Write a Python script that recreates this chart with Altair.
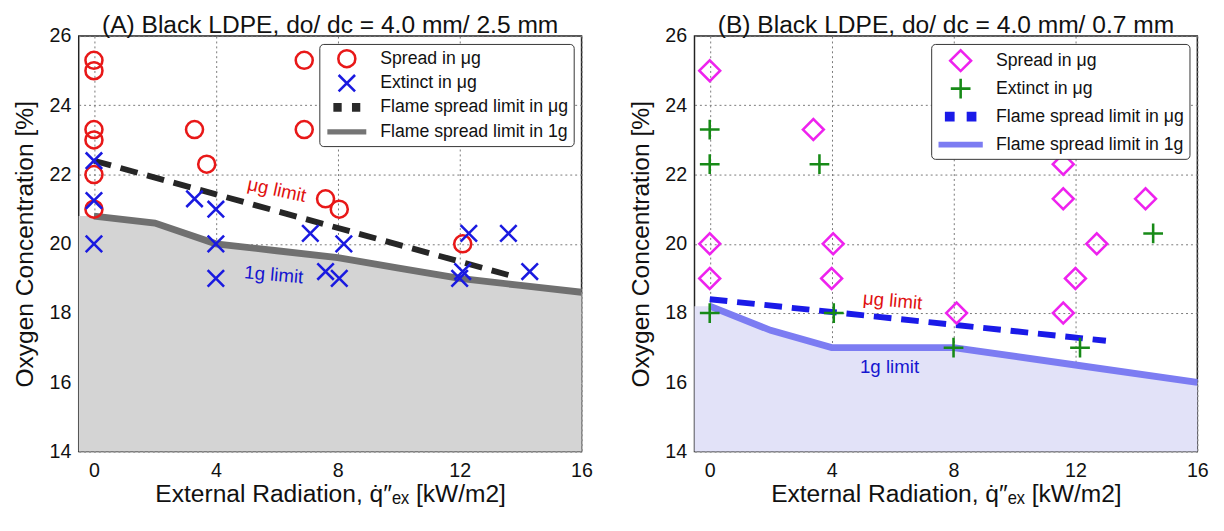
import altair as alt
import pandas as pd

FONT = "Liberation Sans"

SERIES = ["Spread in μg", "Extinct in μg", "Flame spread limit in μg", "Flame spread limit in 1g"]

# ---------- Panel A data ----------
a_spread_x = [0, 0, 0, 0, 0, 0, 3.3, 3.7, 6.9, 6.9, 7.6, 8.05, 12.1]
a_spread_y = [25.3, 25.0, 23.3, 23.0, 22.0, 21.0, 23.3, 22.3, 25.3, 23.3, 21.3, 21.0, 20.0]
a_ext_x = [0, 0, 0, 3.3, 4, 4, 4, 7.1, 7.6, 8.2, 8.05, 12, 12.1, 12.3, 13.6, 14.3]
a_ext_y = [22.4, 21.25, 20.0, 21.3, 21.0, 20.0, 19.0, 20.3, 19.2, 20.0, 19.0, 19.0, 19.2, 20.3, 20.3, 19.2]
a_mu_x = [0, 13.6]
a_mu_y = [22.4, 19.1]
a_1g_x = [0, 2, 4, 6, 8, 10, 12, 14, 16]
a_1g_y = [20.8, 20.6, 20.0, 19.8, 19.6, 19.3, 19.0, 18.8, 18.6]
# shaded region below the 1g limit (reaches the left frame)
a_fill_x = [-0.5, 0, 2, 4, 6, 8, 10, 12, 14, 16]
a_fill_y = [20.8, 20.8, 20.6, 20.0, 19.8, 19.6, 19.3, 19.0, 18.8, 18.6]

# ---------- Panel B data ----------
b_spread_x = [0, 0, 0, 3.4, 4.05, 4, 8.1, 11.6, 11.6, 11.6, 12, 12.7, 14.3]
b_spread_y = [25.0, 20.0, 19.0, 23.3, 20.0, 19.0, 18.0, 22.3, 21.3, 18.0, 19.0, 20.0, 21.3]
b_ext_x = [0, 0, 0, 3.6, 4.07, 8, 12.15, 14.55]
b_ext_y = [23.3, 22.3, 18.0, 22.3, 18.0, 17.0, 17.0, 20.3]
b_mu_x = [0, 13]
b_mu_y = [18.4, 17.2]
b_1g_x = [0, 2, 4, 8, 12, 16]
b_1g_y = [18.2, 17.5, 17.0, 17.0, 16.5, 16.0]
b_fill_x = [-0.5, 0, 2, 4, 8, 12, 16]
b_fill_y = [18.2, 18.2, 17.5, 17.0, 17.0, 16.5, 16.0]

# annotations
lim_text = ["μg limit", "1g limit"]
a_lim_x = [6.0, 5.9]
a_lim_y = [21.55, 19.1]
b_lim_x = [6.0, 5.9]
b_lim_y = [18.35, 16.45]

x_ticks = [0, 4, 8, 12, 16]
y_ticks = [14, 16, 18, 20, 22, 24, 26]

X_TITLE = "External Radiation, q̇″ₑₓ [kW/m2]"
Y_TITLE = "Oxygen Concentration [%]"

# legend / marker glyphs (unit symbol paths)
CROSS_X = "M-1,-1L1,1M-1,1L1,-1"
PLUS = "M-1,0L1,0M0,-1L0,1"
SQ = [-0.39, -0.13, 0.13, 0.39]
LINE_DASH = "".join(f"M-1.7,{v}H-0.65M0.65,{v}H1.7" for v in SQ)
LINE_LONG = "".join(f"M-2.56,{v}H2.56" for v in [-0.18, 0, 0.18])


def panel(title, sx, sy, ex, ey, mux, muy, gx, gy, fx, fy, lx, ly,
          colors, shapes, sizes, fill_col, line_col, mu_col, lim_angles):
    pts = pd.DataFrame({
        "x": list(sx) + list(ex),
        "y": list(sy) + list(ey),
        "series": [SERIES[0]] * len(sx) + [SERIES[1]] * len(ex),
    })
    g1 = pd.DataFrame({"x": gx, "y": gy})
    fill = pd.DataFrame({"x": fx, "y": fy})
    mu = pd.DataFrame({"x": mux, "y": muy})

    xs = alt.Scale(domain=[-0.5, 16], nice=False, zero=False)
    ys = alt.Scale(domain=[14, 26], nice=False, zero=False)
    X = alt.X("x:Q", scale=xs, title=X_TITLE,
              axis=alt.Axis(values=x_ticks, format="d", labelFlush=False))
    Y = alt.Y("y:Q", scale=ys, title=Y_TITLE,
              axis=alt.Axis(values=y_ticks, format="d", labelFlush=False))

    leg = alt.Legend(title=None, orient="top-right", offset=8,
                     fillColor="white", strokeColor="#333", padding=5,
                     cornerRadius=4, labelFontSize=18, labelFont=FONT,
                     labelColor="#111", rowPadding=-3, labelOffset=24,
                     symbolOffset=13, symbolSize=280, symbolStrokeWidth=2.6,
                     labelLimit=0, gridAlign="all")

    area = alt.Chart(fill).mark_area(color=fill_col, opacity=1).encode(
        x=X, y=Y, y2=alt.datum(14))
    line1g = alt.Chart(g1).mark_line(color=line_col, strokeWidth=7).encode(x=X, y=Y)
    linemu = alt.Chart(mu).mark_line(color=mu_col, strokeWidth=6,
                                     strokeDash=[18, 10]).encode(x=X, y=Y)
    points = alt.Chart(pts).mark_point(filled=False, opacity=1, strokeWidth=2.6).encode(
        x=X, y=Y,
        color=alt.Color("series:N", scale=alt.Scale(domain=SERIES, range=colors), legend=leg),
        shape=alt.Shape("series:N", scale=alt.Scale(domain=SERIES, range=shapes), legend=leg),
        size=alt.Size("series:N", scale=alt.Scale(domain=SERIES, range=sizes), legend=None),
    )
    t1 = alt.Chart(pd.DataFrame({"x": [lx[0]], "y": [ly[0]], "t": [lim_text[0]]})).mark_text(
        font=FONT, fontSize=19, color="#e01010", angle=lim_angles[0]).encode(x=X, y=Y, text="t:N")
    t2 = alt.Chart(pd.DataFrame({"x": [lx[1]], "y": [ly[1]], "t": [lim_text[1]]})).mark_text(
        font=FONT, fontSize=19, color="#1515d0", angle=lim_angles[1]).encode(x=X, y=Y, text="t:N")

    return alt.layer(area, line1g, linemu, points, t1, t2).properties(
        width=512, height=423,
        title=alt.TitleParams(title, fontSize=25, font=FONT, fontWeight="normal",
                              color="#111", offset=-12, anchor="middle"),
    )


A = panel("(A) Black LDPE, do/ dc = 4.0 mm/ 2.5 mm",
          a_spread_x, a_spread_y, a_ext_x, a_ext_y, a_mu_x, a_mu_y, a_1g_x, a_1g_y,
          a_fill_x, a_fill_y, a_lim_x, a_lim_y,
          ["#e81818", "#1a1ae0", "#2a2a2a", "#757575"],
          ["circle", CROSS_X, LINE_DASH, LINE_LONG], [300, 240, 280, 280],
          "#d4d4d4", "#707070", "#262626", [12, 5])

B = panel("(B) Black LDPE, do/ dc = 4.0 mm/ 0.7 mm",
          b_spread_x, b_spread_y, b_ext_x, b_ext_y, b_mu_x, b_mu_y, b_1g_x, b_1g_y,
          b_fill_x, b_fill_y, b_lim_x, b_lim_y,
          ["#ee22ee", "#178a17", "#1a1ae8", "#7c7cf2"],
          ["diamond", PLUS, LINE_DASH, LINE_LONG], [450, 310, 280, 280],
          "#e2e2f8", "#7c7cf2", "#1a1ae8", [5, 0])

chart = alt.hconcat(A, B, spacing=32).resolve_scale(
    color="independent", shape="independent", size="independent",
).resolve_legend(
    color="independent", shape="independent", size="independent",
).properties(
    padding={"left": 4, "top": 0, "right": 4, "bottom": 2}
).configure_view(
    stroke="#222", strokeWidth=1.5
).configure_axis(
    labelFont=FONT, labelFontSize=20, labelColor="#111",
    titleFont=FONT, titleFontSize=25, titleFontWeight="normal", titleColor="#111",
    grid=True, gridColor="#777", gridDash=[2, 3], gridWidth=1,
    domain=False, ticks=False,
).configure_axisX(
    labelPadding=9, titlePadding=2,
).configure_axisY(
    labelPadding=8, titlePadding=12,
)

chart.save("out.html", embed_options={"renderer": "svg", "actions": False})
